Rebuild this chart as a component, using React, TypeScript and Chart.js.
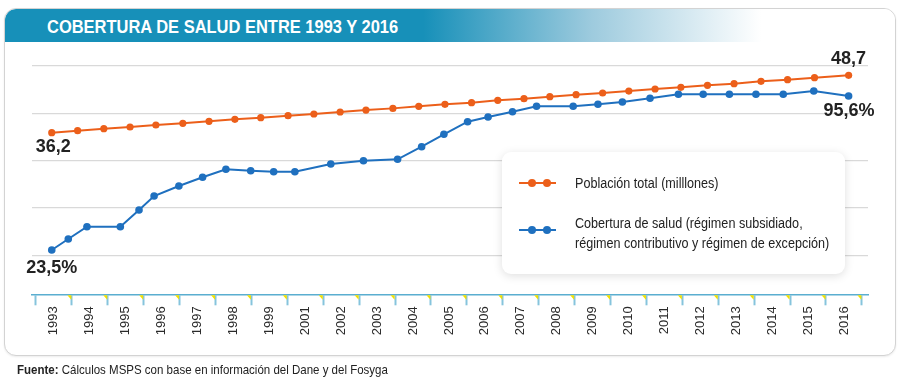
import React, { useEffect, useRef } from 'react';
import { Chart, registerables } from 'chart.js';

Chart.register(...registerables);

// ---------- data ----------
const categories = [
  '1993', '1994', '1995', '1996', '1997', '1998', '1999', '2001', '2002', '2003', '2004', '2005',
  '2006', '2007', '2008', '2009', '2010', '2011', '2012', '2013', '2014', '2015', '2016',
];

// x positions are measured in category-slot units (0 = 1993 slot, 22 = 2016 slot)
const poblacionX = [
  -0.06, 0.66, 1.39, 2.12, 2.84, 3.59, 4.32, 5.04, 5.76, 6.52, 7.24, 7.97, 8.69, 9.44, 10.16, 10.89,
  11.63, 12.36, 13.09, 13.81, 14.54, 15.28, 16.01, 16.74, 17.46, 18.2, 18.94, 19.69, 20.43, 21.18, 22.13,
];
const poblacionY = [
  36.2, 36.64, 37.07, 37.44, 37.87, 38.23, 38.67, 39.11, 39.47, 39.91, 40.27, 40.71, 41.14, 41.5, 41.94,
  42.38, 42.74, 43.25, 43.61, 44.05, 44.48, 44.85, 45.28, 45.72, 46.08, 46.52, 46.88, 47.39, 47.75, 48.19, 48.7,
];

const coberturaX = [
  -0.06, 0.4, 0.92, 1.85, 2.37, 2.79, 3.48, 4.14, 4.79, 5.48, 6.12, 6.71, 7.71, 8.62, 9.57, 10.24,
  10.86, 11.52, 12.09, 12.77, 13.44, 14.46, 15.15, 15.83, 16.6, 17.39, 18.08, 18.81, 19.55, 20.31, 21.16, 22.13,
];
const coberturaY = [
  23.5, 28.65, 34.41, 34.41, 42.23, 48.78, 53.46, 57.54, 61.28, 60.63, 60.16, 60.16, 63.76, 65.31, 65.96,
  71.86, 77.67, 83.57, 85.77, 88.25, 90.78, 90.78, 91.71, 92.79, 94.52, 96.4, 96.4, 96.4, 96.4, 96.4, 97.94, 95.6,
];

const gridLevels = [0, 1, 2, 3, 4];

const seriesNames = ['Población total (milllones)', 'Cobertura de salud (régimen subsidiado, régimen contributivo y régimen de excepción)'];

// ---------- styles ----------
const ORANGE = '#EC5F1A';
const BLUE = '#1F70BF';
const FONT = "'Liberation Sans', Arial, sans-serif";

const fmt = (v: number, suffix = '') => v.toFixed(1).replace('.', ',') + suffix;

const endLabels = {
  id: 'endLabels',
  afterDatasetsDraw(chart: any) {
    const ctx = chart.ctx;
    ctx.save();
    ctx.font = `bold 18px ${FONT}`;
    ctx.fillStyle = '#222';
    ctx.textAlign = 'center';
    ctx.textBaseline = 'middle';
    const o = chart.getDatasetMeta(0).data;
    const b = chart.getDatasetMeta(1).data;
    const oFirst = o[0], oLast = o[o.length - 1];
    const bFirst = b[0], bLast = b[b.length - 1];
    ctx.fillText(fmt(poblacionY[0]), oFirst.x + 1.5, oFirst.y + 14.5);
    ctx.fillText(fmt(poblacionY[poblacionY.length - 1]), oLast.x, oLast.y - 16.5);
    ctx.fillText(fmt(coberturaY[0], '%'), bFirst.x, bFirst.y + 18.5);
    ctx.fillText(fmt(coberturaY[coberturaY.length - 1], '%'), bLast.x + 0.5, bLast.y + 15.5);
    ctx.restore();
  },
};

const tickFlags = {
  id: 'tickFlags',
  afterDraw(chart: any) {
    const ctx = chart.ctx;
    const xs = chart.scales.x;
    const top = chart.chartArea.bottom + 1;
    ctx.save();
    ctx.fillStyle = '#F2E100';
    for (let i = 1; i <= categories.length; i++) {
      const px = xs.getPixelForValue(i - 0.5);
      ctx.beginPath();
      ctx.moveTo(px - 4.5, top);
      ctx.lineTo(px - 0.5, top);
      ctx.lineTo(px - 0.5, top + 4.5);
      ctx.closePath();
      ctx.fill();
    }
    ctx.restore();
  },
};

function LegendSample({ color }: { color: string }) {
  return (
    <div style={{ position: 'relative', width: 37, height: 8 }}>
      <div style={{ position: 'absolute', left: 0, top: 3, width: 37, height: 2, background: color }} />
      <div style={{ position: 'absolute', left: 9, top: 0, width: 8, height: 8, borderRadius: 4, background: color }} />
      <div style={{ position: 'absolute', left: 24, top: 0, width: 8, height: 8, borderRadius: 4, background: color }} />
    </div>
  );
}

export default function App() {
  const canvasRef = useRef<HTMLCanvasElement | null>(null);

  useEffect(() => {
    if (!canvasRef.current) return;
    const xTicks: number[] = [];
    for (let i = -1; i <= categories.length * 2 - 1; i++) xTicks.push(i / 2);

    const chart = new Chart(canvasRef.current, {
      type: 'line',
      data: {
        datasets: [
          {
            label: seriesNames[0],
            data: poblacionX.map((x, i) => ({ x, y: poblacionY[i] })),
            yAxisID: 'yo',
            borderColor: ORANGE,
            backgroundColor: ORANGE,
            borderWidth: 2,
            pointRadius: 3.6,
            pointBorderWidth: 0,
            pointBackgroundColor: ORANGE,
            tension: 0,
          },
          {
            label: seriesNames[1],
            data: coberturaX.map((x, i) => ({ x, y: coberturaY[i] })),
            yAxisID: 'yb',
            borderColor: BLUE,
            backgroundColor: BLUE,
            borderWidth: 2,
            pointRadius: 3.8,
            pointBorderWidth: 0,
            pointBackgroundColor: BLUE,
            tension: 0,
          },
        ],
      },
      options: {
        responsive: false,
        animation: false,
        devicePixelRatio: 1,
        layout: { padding: { left: 32, right: 32, top: 66, bottom: 0 } },
        plugins: { legend: { display: false }, tooltip: { enabled: false } },
        events: [],
        scales: {
          x: {
            type: 'linear',
            min: -0.61,
            max: 22.67,
            afterBuildTicks: (s: any) => {
              s.ticks = xTicks.map((v) => ({ value: v }));
            },
            afterFit: (s: any) => {
              s.height = 93.7;
            },
            grid: {
              drawOnChartArea: false,
              drawTicks: true,
              tickLength: 11,
              tickWidth: 2,
              tickColor: (c: any) => (Number.isInteger(c.tick?.value) ? 'rgba(0,0,0,0)' : '#86C4DC'),
            },
            border: { display: true, color: '#5AAED0', width: 1.5 },
            ticks: {
              autoSkip: false,
              minRotation: 90,
              maxRotation: 90,
              padding: 1,
              color: '#2a2a2a',
              font: { family: FONT, size: 13 },
              callback: (v: any) => (Number.isInteger(v) ? categories[v] : ''),
            },
          },
          yg: {
            position: 'left',
            min: -0.824,
            max: 4,
            afterBuildTicks: (s: any) => {
              s.ticks = gridLevels.map((v) => ({ value: v }));
            },
            grid: { color: '#D9D9D9', lineWidth: 1.3, drawTicks: false },
            border: { display: false },
            ticks: { display: false },
          },
          yb: { display: false, min: 2.76, max: 109.65 },
          yo: { display: false, min: 0.96, max: 50.74 },
        },
      },
      plugins: [endLabels, tickFlags],
    } as any);
    return () => chart.destroy();
  }, []);

  const condensed = (scale: number): React.CSSProperties => ({
    transform: `scaleX(${scale})`,
    transformOrigin: 'left center',
    whiteSpace: 'nowrap',
  });

  return (
    <div style={{ position: 'fixed', left: 0, top: 0, width: 900, height: 388, background: '#fff', fontFamily: FONT, overflow: 'hidden' }}>
      {/* frame */}
      <div
        style={{
          position: 'absolute', left: 4, top: 8, width: 890, height: 346,
          border: '1.5px solid #D3D3D3', borderRadius: 12, background: '#fff', overflow: 'hidden',
          boxShadow: '0 1px 2px rgba(0,0,0,0.08)',
        }}
      >
        <div
          style={{
            position: 'absolute', left: 0, top: 0, width: '100%', height: 33,
            background: 'linear-gradient(to right, #1790B9 0%, #1790B9 47%, #9ECBDE 66%, #FFFFFF 85%)',
            borderTopLeftRadius: 11,
          }}
        />
      </div>
      <div
        style={{
          position: 'absolute', left: 47, top: 16, height: 22, lineHeight: '22px',
          color: '#fff', fontWeight: 700, fontSize: 18, ...condensed(0.915),
        }}
      >
        COBERTURA DE SALUD ENTRE 1993 Y 2016
      </div>

      <canvas ref={canvasRef} width={900} height={388} style={{ position: 'absolute', left: 0, top: 0, width: 900, height: 388 }} />

      {/* legend */}
      <div
        style={{
          position: 'absolute', left: 502, top: 152, width: 343, height: 122,
          background: '#fff', borderRadius: 9, boxShadow: '0 2px 10px rgba(0,0,0,0.13)',
        }}
      >
        <div style={{ position: 'absolute', left: 17, top: 27 }}>
          <LegendSample color={ORANGE} />
        </div>
        <div style={{ position: 'absolute', left: 73, top: 21, fontSize: 14, lineHeight: '20px', color: '#222', ...condensed(0.9) }}>
          Población total (milllones)
        </div>
        <div style={{ position: 'absolute', left: 17, top: 74 }}>
          <LegendSample color={BLUE} />
        </div>
        <div style={{ position: 'absolute', left: 73, top: 62, fontSize: 14, lineHeight: '19.5px', color: '#222', ...condensed(0.9) }}>
          Cobertura de salud (régimen subsidiado,
          <br />
          régimen contributivo y régimen de excepción)
        </div>
      </div>

      {/* source */}
      <div style={{ position: 'absolute', left: 17, top: 362, fontSize: 13, lineHeight: '16px', color: '#222', ...condensed(0.885) }}>
        <b>Fuente:</b> Cálculos MSPS con base en información del Dane y del Fosyga
      </div>
    </div>
  );
}
